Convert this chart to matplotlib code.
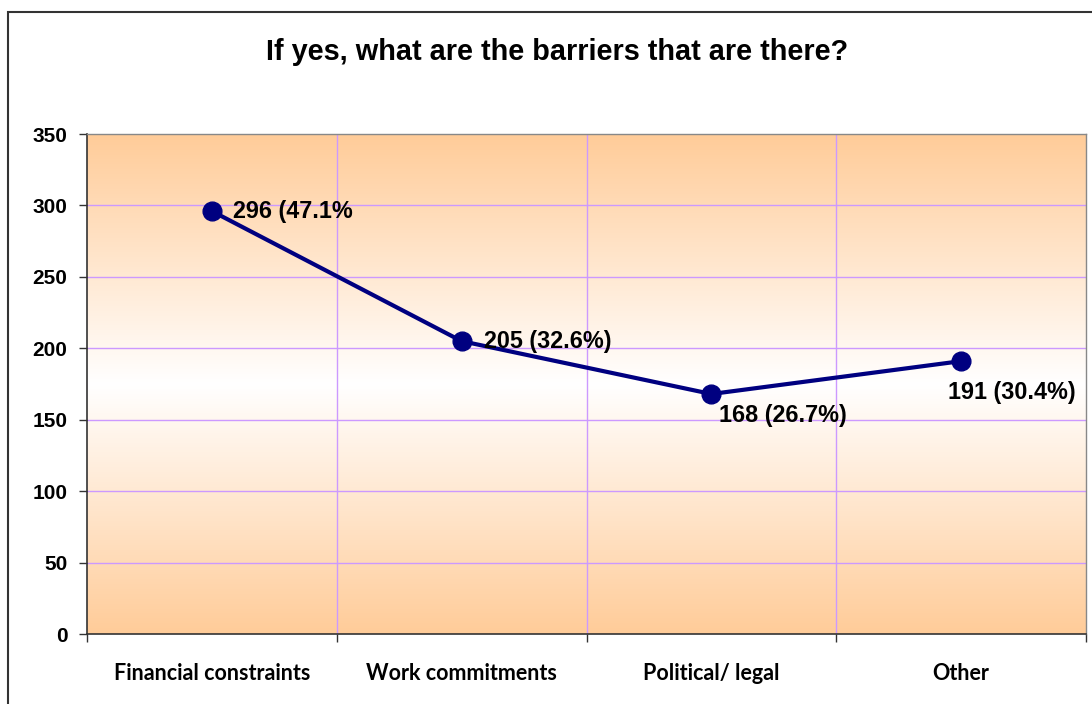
import numpy as np
import matplotlib
matplotlib.use("Agg")
import matplotlib.pyplot as plt
from matplotlib.colors import LinearSegmentedColormap
from matplotlib.patches import Rectangle

categories = ["Financial constraints", "Work commitments", "Political/ legal", "Other"]
counts = [296, 205, 168, 191]
point_labels = ["296 (47.1%", "205 (32.6%)", "168 (26.7%)", "191 (30.4%)"]
label_offsets = [(21, 0, "left", "center"), (22, 0, "left", "center"),
                 (8, -10, "left", "top"), (-13, -20, "left", "top")]
y_ticks = [0, 50, 100, 150, 200, 250, 300, 350]
title = "If yes, what are the barriers that are there?"

fig = plt.figure(figsize=(10.92, 7.04), dpi=100)
fig.patch.set_facecolor("white")

# outer chart frame
fig.patches.append(Rectangle((8 / 1092, -0.01), 1.02, 1 - 12 / 704 + 0.01,
                             transform=fig.transFigure, fill=False,
                             edgecolor="#333333", linewidth=1.5, zorder=0))

ax = fig.add_axes([87 / 1092, 70 / 704, 999 / 1092, 500 / 704])
n = len(categories)
x = np.arange(n)
ax.set_xlim(-0.5, n - 0.5)
ax.set_ylim(0, 350)

# peach-white-peach vertical gradient background
cmap = LinearSegmentedColormap.from_list("bg", ["#FFCC99", "#FFFFFF", "#FFCC99"])
grad = np.linspace(0, 1, 256).reshape(-1, 1)
ax.imshow(grad, aspect="auto", cmap=cmap, extent=(-0.5, n - 0.5, 0, 350),
          origin="lower", zorder=0)

# gridlines
for yv in y_ticks[1:-1]:
    ax.axhline(yv, color="#CC99FF", linewidth=1, zorder=1)
for xb in np.arange(0.5, n - 0.5, 1):
    ax.axvline(xb, color="#CC99FF", linewidth=1, zorder=1)

ax.plot(x, counts, color="#000080", linewidth=3, marker="o",
        markersize=13.5, zorder=3, clip_on=False)

for xi, yi, lab, (dx, dy, ha, va) in zip(x, counts, point_labels, label_offsets):
    ax.annotate(lab, (xi, yi), xytext=(dx, dy), textcoords="offset pixels",
                ha=ha, va=va, fontsize=16.8, fontweight="bold",
                family="Liberation Sans", color="black", zorder=4)

ax.set_yticks(y_ticks)
ax.set_yticklabels([str(v) for v in y_ticks], fontsize=15, fontweight="bold",
                   family="Liberation Sans")
ax.set_xticks(x)
ax.set_xticklabels(categories, fontsize=15.5, fontweight="bold", family="Lato")
ax.tick_params(axis="x", which="major", length=0, pad=21)
ax.set_xticks(np.arange(-0.5, n, 1), minor=True)
ax.tick_params(axis="x", which="minor", length=6, width=1, color="#333333")
ax.tick_params(axis="y", length=6, width=1, color="#333333", pad=8)

for side in ["left", "bottom"]:
    ax.spines[side].set_color("#333333")
    ax.spines[side].set_linewidth(1.2)
for side in ["top", "right"]:
    ax.spines[side].set_color("#888888")
    ax.spines[side].set_linewidth(1)

fig.text(557 / 1092, 1 - 52 / 704, title, ha="center", va="center",
         fontsize=20.8, fontweight="bold", family="Liberation Sans")

fig.savefig("out.png", dpi=100)
